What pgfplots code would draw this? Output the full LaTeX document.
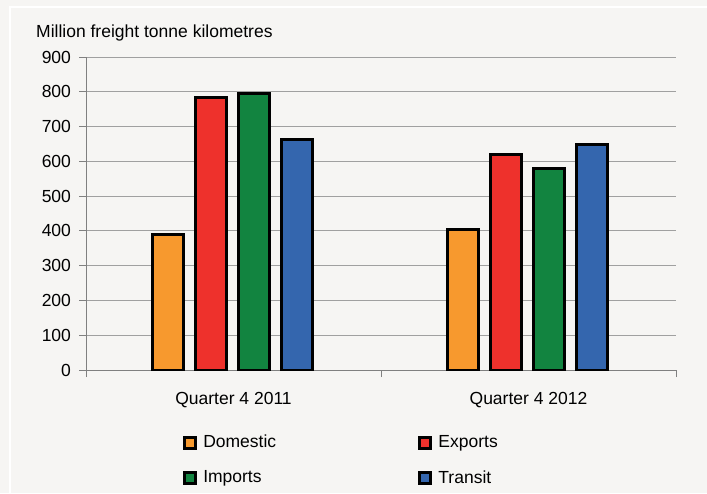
\documentclass[border=0pt]{standalone}
\usepackage{fontspec}
\setmainfont{Liberation Sans}
\usepackage{pgfplots}
\pgfplotsset{compat=1.18}

\definecolor{bgcol}{RGB}{246,245,243}
\definecolor{axisgray}{RGB}{128,128,128}
\definecolor{gridgray}{RGB}{160,160,160}
\definecolor{domestic}{RGB}{247,153,46}
\definecolor{exports}{RGB}{238,49,44}
\definecolor{imports}{RGB}{18,132,64}
\definecolor{transit}{RGB}{52,102,174}

\begin{document}
\fontsize{17.5pt}{21pt}\selectfont
\begin{tikzpicture}[x=1pt,y=1pt]
\useasboundingbox (0,0) rectangle (707,493);
\fill[bgcol] (0,0) rectangle (707,493);
\draw[white, line width=2pt] (10,-20) rectangle (730,486);
\node[anchor=base west, inner sep=0pt] at (36,455) {Million freight tonne kilometres};
\begin{axis}[
    at={(86pt,123pt)}, anchor=south west,
    scale only axis, width=590pt, height=313pt,
    xmin=-0.5, xmax=1.5,
    ymin=0, ymax=900,
    axis lines=left,
    axis line style={-, draw=axisgray, line width=1pt},
    xtick={-0.5,0.5,1.5},
    x tick label as interval,
    xticklabels={Quarter 4 2011, Quarter 4 2012},
    ytick distance=100,
    ymajorgrids=true,
    grid style={gridgray, line width=1pt},
    tick align=outside,
    major tick length=7pt,
    tick style={axisgray, line width=1pt},
    ticklabel style={font=\fontsize{17.5pt}{21pt}\selectfont},
    /pgf/number format/assume math mode=true,
    xticklabel style={yshift=-9pt},
    yticklabel style={xshift=-2pt},
    ybar=12pt, bar width=31pt,
    every axis plot/.append style={draw=black, line width=3pt},
    legend columns=2,
    legend cell align=left,
    legend style={at={(axis description cs:0.159,-0.195)}, anchor=north west,
        draw=none, fill=none, row sep=16pt,
        font=\fontsize{17.5pt}{21pt}\selectfont,
        /tikz/every even column/.append style={column sep=140pt}},
    legend image code/.code={\draw[#1, line width=2.5pt] (0pt,-5.5pt) rectangle (11pt,5.5pt);
        \path[draw=none, fill=none] (0pt,0pt) -- (17pt,0pt);},
]
\addplot[fill=domestic, bar shift=-66pt] coordinates {(0,390) (1,405)};
\addlegendentry{Domestic}
\addplot[fill=exports, bar shift=-23pt] coordinates {(0,784) (1,621)};
\addlegendentry{Exports}
\addplot[fill=imports, bar shift=20pt] coordinates {(0,794) (1,578)};
\addlegendentry{Imports}
\addplot[fill=transit, bar shift=63pt] coordinates {(0,662) (1,648)};
\addlegendentry{Transit}
\end{axis}
\end{tikzpicture}
\end{document}
